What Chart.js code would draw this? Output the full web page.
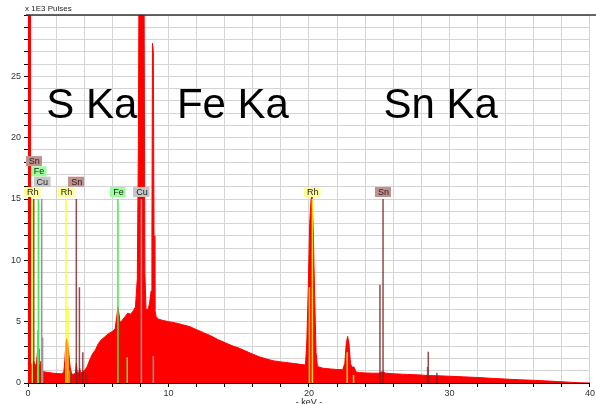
<!DOCTYPE html>
<html>
<head>
<meta charset="utf-8">
<script src="https://cdn.jsdelivr.net/npm/chart.js@4.4.1/dist/chart.umd.min.js"></script>
<style>
  html, body { margin: 0; padding: 0; background: #fff; }
  #wrap { width: 596px; height: 404px; }
</style>
</head>
<body>
<div id="wrap"><canvas id="spectrumChart" width="596" height="404"></canvas></div>
<script>
// Spectrum (energy in keV, counts in x1000 pulses)
const energy = [0.00, 0.15, 0.18, 0.30, 0.40, 0.50, 0.60, 0.68, 0.72, 0.78, 0.85, 0.93, 0.98, 1.05, 1.2, 1.5, 1.8, 2.1, 2.4,
  2.55, 2.62, 2.70, 2.76, 2.84, 2.92, 3.00, 3.08, 3.20, 3.38, 3.44, 3.50, 3.62, 3.68, 3.74, 3.90, 4.00,
  4.2, 4.4, 4.6, 4.8, 5.0, 5.2, 5.45, 5.7, 6.0, 6.2, 6.32, 6.40, 6.48, 6.56, 6.7, 6.9, 7.1, 7.3, 7.5, 7.65,
  7.78, 7.86, 7.92, 8.24, 8.32, 8.40, 8.55, 8.65, 8.76, 8.82, 8.86, 8.92, 8.97, 9.03, 9.12, 9.3, 9.6,
  10.0, 10.5, 11.0, 11.5, 12.0, 12.5, 13.0, 13.5, 14.0, 14.5, 15.0, 15.5, 16.0, 16.5, 17.0, 17.5, 18.0, 18.5, 19.0, 19.5,
  19.75, 19.85, 19.95, 20.05, 20.15, 20.22, 20.30, 20.40, 20.50, 20.60, 21.0, 21.5, 22.0, 22.4,
  22.55, 22.65, 22.75, 22.85, 22.95, 23.05, 23.2, 23.35, 23.6, 24.0, 24.5, 25.0, 25.15, 25.3, 25.45,
  26.0, 27.0, 28.0, 28.5, 29.0, 30.0, 31.0, 32.0, 33.0, 34.0, 35.0, 36.0, 37.0, 38.0, 38.8, 39.3, 40.0];
const counts = [40, 40, 1.6, 1.5, 1.8, 1.4, 1.6, 2.6, 2.8, 1.6, 1.4, 1.8, 1.3, 0.95, 0.9, 0.85, 0.8, 0.78, 0.75,
  0.9, 1.8, 3.3, 3.6, 3.2, 2.2, 1.3, 0.8, 0.7, 0.8, 1.6, 0.9, 0.8, 1.2, 0.8, 0.9, 1.0,
  1.3, 1.9, 2.4, 2.7, 3.2, 3.5, 3.75, 4.0, 4.2, 4.4, 5.4, 6.2, 5.6, 4.9, 5.1, 5.4, 5.7, 5.6, 5.9, 6.2,
  8.5, 20, 40, 40, 9, 6.0, 6.0, 6.5, 7.5, 12, 27.7, 27.0, 12, 6, 5.4, 5.2, 5.1,
  5.0, 4.9, 4.75, 4.6, 4.35, 4.1, 3.85, 3.55, 3.3, 3.05, 2.85, 2.6, 2.35, 2.12, 1.95, 1.8, 1.72, 1.65, 1.58, 1.5,
  1.47, 3.5, 7.8, 13, 15.0, 15.2, 12.5, 7.2, 2.5, 1.35, 1.2, 1.15, 1.1, 1.08,
  1.6, 3.2, 3.8, 3.2, 1.6, 1.3, 1.3, 0.9, 0.85, 0.82, 0.8, 0.8, 0.9, 0.9, 0.8,
  0.75, 0.7, 0.65, 0.6, 0.6, 0.55, 0.5, 0.45, 0.38, 0.32, 0.26, 0.22, 0.16, 0.1, 0.05, 0.02, 0];

// Element marker lines: energy (keV) and height (x1000 pulses)
const rhLines = [0.31, 2.70, 2.84, 3.00, 20.03, 20.24, 22.72, 23.17];
const rhHeights = [15, 15, 6.2, 1.0, 7.8, 15, 2.5, 0.65];
const snLines = [0.41, 3.04, 3.44, 3.66, 3.90, 4.13, 25.05, 25.27, 28.44, 28.49, 29.1];
const snHeights = [15, 1.0, 15, 7.8, 2.5, 0.8, 8.0, 15, 1.3, 2.55, 0.84];
const feLines = [0.69, 0.74, 6.40, 7.06];
const feHeights = [4.3, 15, 15, 2.1];
const cuLines = [0.98, 1.04, 8.07, 8.92];
const cuHeights = [15, 3.7, 15, 2.2];

// Marker labels
const labelNames = ['Rh', 'Sn', 'Fe', 'Cu', 'Rh', 'Sn', 'Fe', 'Cu', 'Rh', 'Sn'];
const labelEnergy = [0.31, 0.41, 0.74, 0.98, 2.70, 3.44, 6.40, 8.07, 20.24, 25.27];
const labelLevel = [0, 3, 2, 1, 0, 1, 0, 0, 0, 0];

// Large annotations
const bigTexts = ['S Ka', 'Fe Ka', 'Sn Ka'];
const bigTextKeV = [1.3, 10.6, 25.3];

const yTicks = [0, 5, 10, 15, 20, 25];
const xTicks = [0, 10, 20, 30, 40];

const colors = {
    Rh: { line: 'rgba(255,255,0,0.85)', box: '#ffff99' },
    Sn: { line: 'rgba(120,30,30,0.8)', box: '#c39090' },
    Fe: { line: '#44ee44', box: '#99ff99' },
    Cu: { line: '#999999', box: '#c6c6c6' }
};

function markerData(xs, hs) {
    const out = [];
    xs.forEach((x, i) => {
        out.push({ x: x, y: 0 }, { x: x, y: hs[i] }, { x: x, y: null });
    });
    return out;
}

function markerSet(name, xs, hs) {
    return {
        label: name,
        data: markerData(xs, hs),
        borderColor: colors[name].line,
        borderWidth: 1.5,
        pointRadius: 0,
        fill: false,
        spanGaps: false,
        order: 1
    };
}

const annotations = {
    id: 'annotations',
    afterDatasetsDraw(chart) {
        const { ctx, chartArea, scales: { x, y } } = chart;
        ctx.save();
        // top frame line
        ctx.strokeStyle = '#333';
        ctx.lineWidth = 1.5;
        ctx.beginPath();
        ctx.moveTo(chartArea.left - 2, chartArea.top);
        ctx.lineTo(chart.width, chartArea.top);
        ctx.stroke();

        // marker labels
        ctx.font = '9px "Liberation Sans", Arial, sans-serif';
        ctx.textBaseline = 'middle';
        ctx.textAlign = 'center';
        labelNames.forEach((name, i) => {
            const px = x.getPixelForValue(labelEnergy[i]);
            const bottom = y.getPixelForValue(15) - 2 - labelLevel[i] * 10.3;
            const w = ctx.measureText(name).width + 5;
            ctx.fillStyle = colors[name].box;
            ctx.fillRect(Math.round(px - w / 2), bottom - 10, w, 10);
            ctx.fillStyle = '#222';
            ctx.fillText(name, px + 0.5, bottom - 4.5);
        });

        // big element labels
        ctx.font = '42px "Liberation Sans", Arial, sans-serif';
        ctx.textAlign = 'left';
        ctx.textBaseline = 'alphabetic';
        ctx.fillStyle = '#000';
        bigTexts.forEach((t, i) => {
            ctx.fillText(t, x.getPixelForValue(bigTextKeV[i]), y.getPixelForValue(21.6));
        });

        // axis captions
        ctx.font = '8px "Liberation Sans", Arial, sans-serif';
        ctx.fillStyle = '#222';
        ctx.fillText('x 1E3 Pulses', 25, 11);
        ctx.font = '9px "Liberation Sans", Arial, sans-serif';
        ctx.textAlign = 'center';
        ctx.fillText('- keV -', (chartArea.left + chartArea.right) / 2, 405);
        ctx.restore();
    }
};

const ctx = document.getElementById('spectrumChart').getContext('2d');
const spectrumChart = new Chart(ctx, {
    type: 'line',
    data: {
        datasets: [
            {
                label: 'Spectrum',
                data: energy.map((e, i) => ({ x: e, y: counts[i] })),
                borderColor: '#ff0000',
                backgroundColor: '#ff0000',
                borderWidth: 1,
                pointRadius: 0,
                tension: 0,
                fill: 'origin',
                order: 10
            },
            markerSet('Sn', snLines, snHeights),
            markerSet('Cu', cuLines, cuHeights),
            markerSet('Fe', feLines, feHeights),
            markerSet('Rh', rhLines, rhHeights)
        ]
    },
    options: {
        responsive: false,
        animation: false,
        events: [],
        layout: { autoPadding: false, padding: { top: 15, right: 3, left: 0, bottom: 0 } },
        plugins: { legend: { display: false }, tooltip: { enabled: false } },
        scales: {
            x: {
                type: 'linear',
                min: 0,
                max: 40,
                ticks: {
                    stepSize: 2,
                    autoSkip: false,
                    maxRotation: 0,
                    padding: 1,
                    color: '#333',
                    font: { size: 9, family: '"Liberation Sans", Arial, sans-serif' },
                    callback: v => xTicks.includes(v) ? v : ''
                },
                grid: { color: '#d4d4d4', tickColor: '#000', tickLength: 4 },
                border: { color: '#000', width: 1 },
                afterFit: s => { s.height = 21; }
            },
            y: {
                min: 0,
                max: 30,
                ticks: {
                    stepSize: 1,
                    autoSkip: false,
                    padding: 3,
                    color: '#333',
                    font: { size: 9, family: '"Liberation Sans", Arial, sans-serif' },
                    callback: v => yTicks.includes(v) ? v : ''
                },
                grid: { color: '#d4d4d4', tickColor: '#000', tickLength: 4 },
                border: { color: '#000', width: 1 },
                afterFit: s => { s.width = 28; }
            }
        }
    },
    plugins: [annotations]
});
</script>
</body>
</html>
